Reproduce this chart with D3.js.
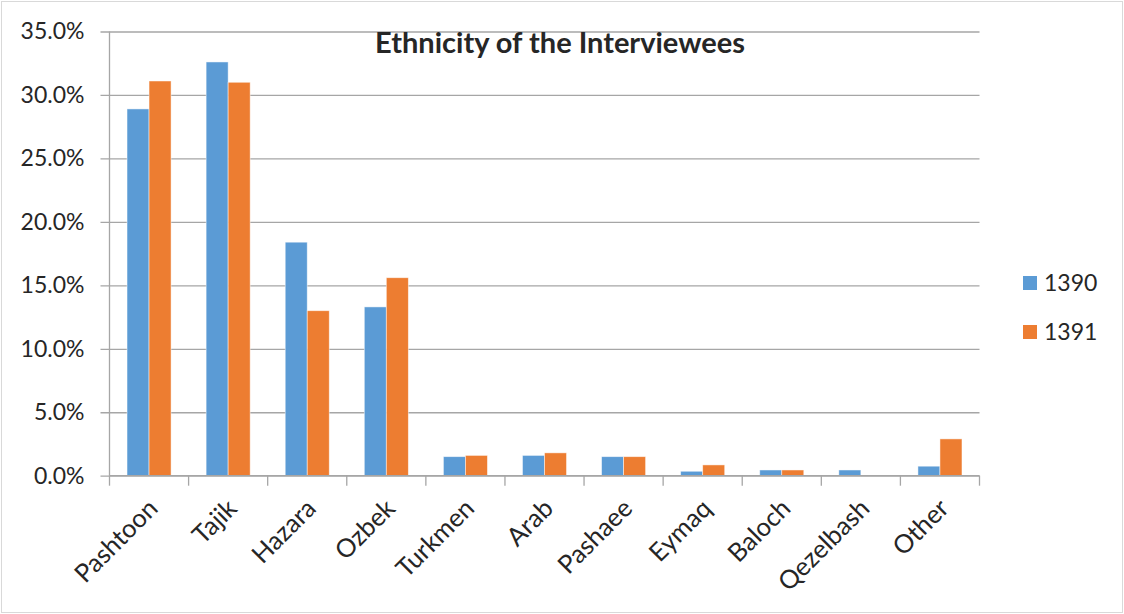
<!DOCTYPE html>
<html>
<head>
<meta charset="utf-8">
<script src="https://cdn.jsdelivr.net/npm/d3@7"></script>
<style>
  html, body { margin: 0; padding: 0; background: #fff; }
  svg { display: block; }
  text { font-family: Lato, "Open Sans", sans-serif; fill: #262626; }
</style>
</head>
<body>
<svg id="chart" width="1124" height="614"></svg>
<script>
// Share of interviewees by ethnic group, survey years 1390 and 1391 (percent)
const categories = ["Pashtoon", "Tajik", "Hazara", "Ozbek", "Turkmen", "Arab", "Pashaee", "Eymaq", "Baloch", "Qezelbash", "Other"];
const seriesNames = ["1390", "1391"];
const values1390 = [28.9, 32.6, 18.4, 13.3, 1.5, 1.6, 1.5, 0.35, 0.45, 0.45, 0.75];
const values1391 = [31.1, 31.0, 13.0, 15.6, 1.6, 1.8, 1.5, 0.85, 0.45, 0, 2.9];
const yTicks = [0, 5, 10, 15, 20, 25, 30, 35];
const colors = ["#5b9bd5", "#ed7d31"];
const title = "Ethnicity of the Interviewees";

const svg = d3.select("#chart");
const W = 1124, H = 614;
const plot = { left: 109.5, right: 979.5, top: 31.5, bottom: 475.7 };

// outer frame
svg.append("rect")
  .attr("x", 1.5).attr("y", 1.5)
  .attr("width", W - 3).attr("height", H - 3)
  .attr("fill", "#fff").attr("stroke", "#d9d9d9").attr("stroke-width", 1);

const x = d3.scaleBand()
  .domain(categories)
  .range([plot.left, plot.right])
  .paddingInner(0.443)
  .paddingOuter(0.2215);

const xSeries = d3.scaleBand()
  .domain(seriesNames)
  .range([0, x.bandwidth()]);

const y = d3.scaleLinear().domain([0, 35]).range([plot.bottom, plot.top]);

// horizontal gridlines with left tick marks
const yAxis = d3.axisLeft(y)
  .tickValues(yTicks)
  .tickSize(-(plot.right - plot.left))
  .tickPadding(25)
  .tickFormat(d => d.toFixed(1) + "%");

const gy = svg.append("g")
  .attr("transform", `translate(${plot.left},0)`)
  .call(yAxis);
gy.select(".domain").remove();
gy.selectAll(".tick line")
  .attr("x1", -9)
  .attr("stroke", "#a6a6a6").attr("stroke-width", 1.3);
gy.selectAll(".tick text")
  .attr("font-size", 23)
  .attr("fill", "#262626")
  .attr("font-family", "Lato, 'Open Sans', sans-serif");

// vertical axis line
svg.append("line")
  .attr("x1", plot.left).attr("x2", plot.left)
  .attr("y1", plot.top).attr("y2", plot.bottom)
  .attr("stroke", "#a6a6a6").attr("stroke-width", 1.3);

// bars
const rows = categories.map((c, i) => ({ cat: c, vals: [values1390[i], values1391[i]] }));
const groups = svg.append("g").selectAll("g")
  .data(rows).join("g")
  .attr("transform", d => `translate(${x(d.cat)},0)`);

groups.selectAll("rect")
  .data(d => d.vals.map((v, k) => ({ v, k })))
  .join("rect")
  .attr("x", d => xSeries(seriesNames[d.k]))
  .attr("width", xSeries.bandwidth())
  .attr("y", d => y(d.v))
  .attr("height", d => y(0) - y(d.v))
  .attr("fill", d => colors[d.k])
  .attr("stroke", d => d.v > 0 ? "#ffffff" : "none")
  .attr("stroke-opacity", 0.6)
  .attr("stroke-width", 0.8);

// category axis
const xTickPos = d3.range(categories.length + 1).map(i => plot.left + i * x.step());
const gx = svg.append("g");
gx.append("line")
  .attr("x1", plot.left).attr("x2", plot.right)
  .attr("y1", plot.bottom).attr("y2", plot.bottom)
  .attr("stroke", "#a6a6a6").attr("stroke-width", 1.3);
gx.selectAll("line.tk")
  .data(xTickPos).join("line")
  .attr("class", "tk")
  .attr("x1", d => d).attr("x2", d => d)
  .attr("y1", plot.bottom).attr("y2", plot.bottom + 10)
  .attr("stroke", "#a6a6a6").attr("stroke-width", 1.3);

gx.selectAll("text")
  .data(categories).join("text")
  .attr("transform", d => `translate(${x(d) + x.bandwidth() / 2 + 4},${plot.bottom + 28}) rotate(-45)`)
  .attr("text-anchor", "end")
  .attr("dy", "0.35em")
  .attr("font-size", 25.5)
  .text(d => d);

// title
svg.append("text")
  .attr("x", 560).attr("y", 52.5)
  .attr("text-anchor", "middle")
  .attr("font-size", 29)
  .attr("font-weight", "bold")
  .attr("fill", "#000")
  .text(title);

// legend
const legend = svg.append("g").selectAll("g")
  .data(seriesNames).join("g")
  .attr("transform", (d, i) => `translate(1023,${276 + i * 49})`);
legend.append("rect")
  .attr("width", 14).attr("height", 14)
  .attr("fill", (d, i) => colors[i]);
legend.append("text")
  .attr("x", 21).attr("y", 7)
  .attr("dy", "0.35em")
  .attr("font-size", 23)
  .text(d => d);
</script>
</body>
</html>
